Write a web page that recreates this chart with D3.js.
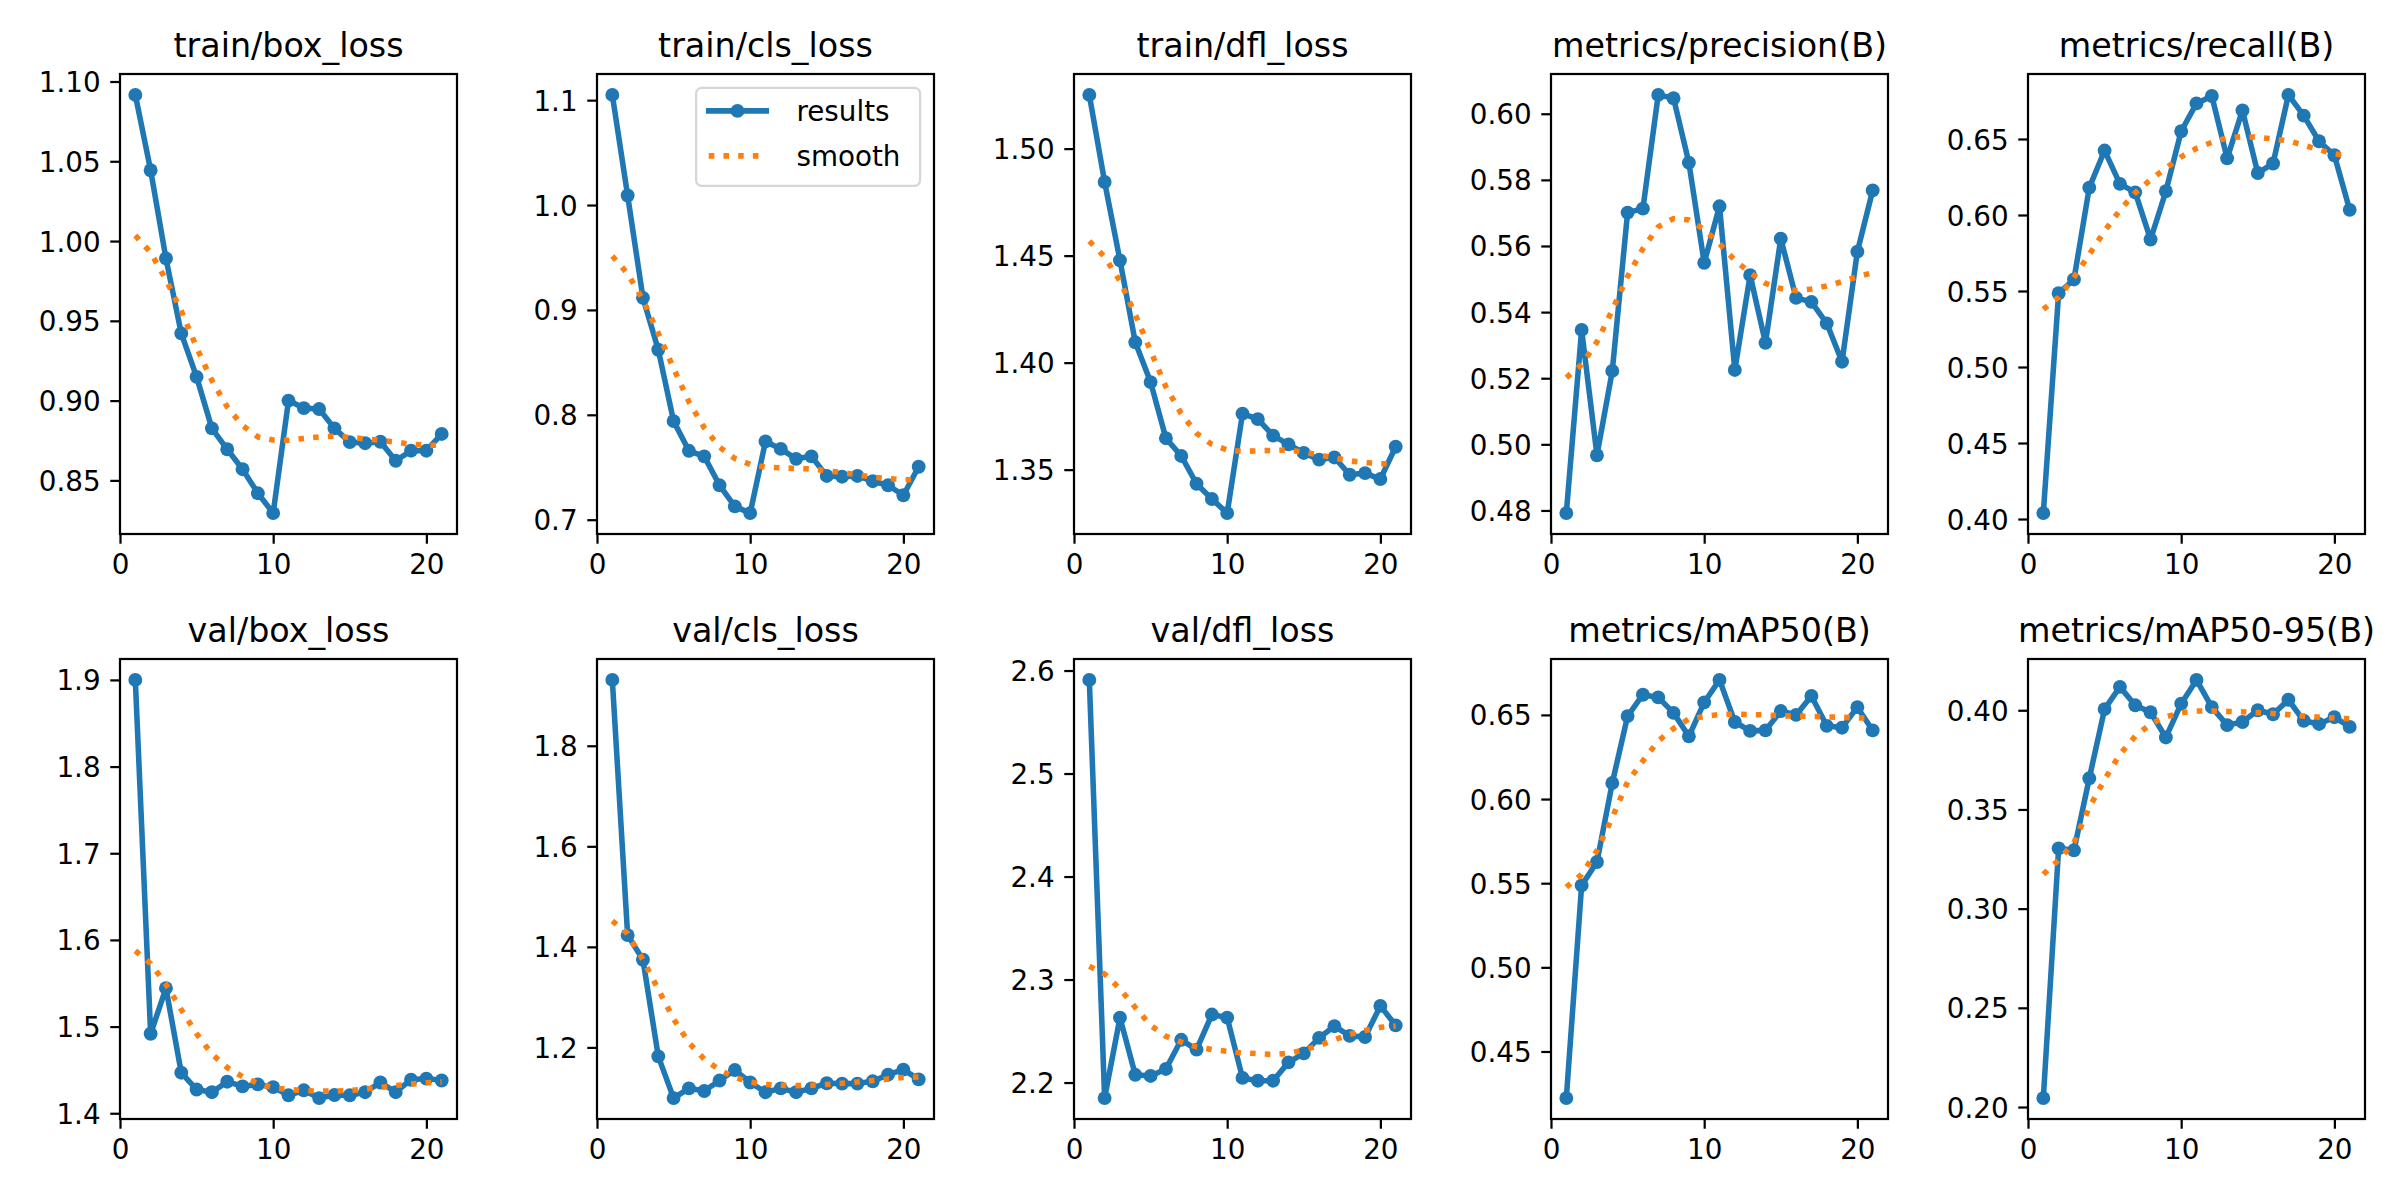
<!DOCTYPE html>
<html>
<head>
<meta charset="utf-8">
<script src="https://cdn.jsdelivr.net/npm/d3@7"></script>
<style>
  html, body { margin: 0; padding: 0; background: #ffffff; }
  svg { display: block; }
  text { font-family: "DejaVu Sans", sans-serif; fill: #000; }
</style>
</head>
<body>
<svg id="chart" width="2400" height="1200"></svg>
<script>
// ---------------- data ----------------
const epochs = [1, 2, 3, 4, 5, 6, 7, 8, 9, 10, 11, 12, 13, 14, 15, 16, 17, 18, 19, 20, 21];

const titles = [
  "train/box_loss", "train/cls_loss", "train/dfl_loss", "metrics/precision(B)", "metrics/recall(B)",
  "val/box_loss", "val/cls_loss", "val/dfl_loss", "metrics/mAP50(B)", "metrics/mAP50-95(B)"
];

const trainBoxLoss = [1.0916, 1.0444, 0.9891, 0.9421, 0.9149, 0.8826, 0.8695, 0.8570, 0.8419, 0.8295, 0.9000, 0.8953, 0.8947, 0.8826, 0.8740, 0.8733, 0.8742, 0.8623, 0.8686, 0.8686, 0.8791];
const trainBoxLossSmooth = [1.0035, 0.9928, 0.9758, 0.9563, 0.9333, 0.9126, 0.8960, 0.8844, 0.8772, 0.8753, 0.8751, 0.8763, 0.8772, 0.8777, 0.8770, 0.8760, 0.8751, 0.8740, 0.8726, 0.8721, 0.8719];

const trainClsLoss = [1.1050, 1.0091, 0.9115, 0.8620, 0.7940, 0.7657, 0.7604, 0.7328, 0.7127, 0.7063, 0.7746, 0.7675, 0.7580, 0.7604, 0.7417, 0.7410, 0.7417, 0.7367, 0.7328, 0.7233, 0.7505];
const trainClsLossSmooth = [0.9514, 0.9345, 0.9097, 0.8778, 0.8443, 0.8124, 0.7877, 0.7693, 0.7583, 0.7527, 0.7502, 0.7495, 0.7488, 0.7484, 0.7467, 0.7449, 0.7428, 0.7406, 0.7392, 0.7381, 0.7381];

const trainDflLoss = [1.5251, 1.4844, 1.4478, 1.4095, 1.3909, 1.3647, 1.3564, 1.3434, 1.3363, 1.3297, 1.3762, 1.3736, 1.3659, 1.3618, 1.3578, 1.3547, 1.3557, 1.3476, 1.3484, 1.3456, 1.3607];
const trainDflLossSmooth = [1.4568, 1.4494, 1.4381, 1.4225, 1.4055, 1.3887, 1.3762, 1.3670, 1.3618, 1.3592, 1.3585, 1.3588, 1.3590, 1.3592, 1.3581, 1.3569, 1.3555, 1.3541, 1.3533, 1.3528, 1.3526];

const precision = [0.4792, 0.5346, 0.4967, 0.5222, 0.5701, 0.5713, 0.6057, 0.6047, 0.5852, 0.5549, 0.5720, 0.5225, 0.5512, 0.5307, 0.5622, 0.5443, 0.5431, 0.5366, 0.5250, 0.5583, 0.5768];
const precisionSmooth = [0.5202, 0.5241, 0.5310, 0.5406, 0.5508, 0.5592, 0.5658, 0.5683, 0.5679, 0.5650, 0.5607, 0.5557, 0.5519, 0.5487, 0.5471, 0.5465, 0.5470, 0.5479, 0.5492, 0.5507, 0.5519];

const recall = [0.4039, 0.5485, 0.5576, 0.6180, 0.6424, 0.6205, 0.6149, 0.5839, 0.6156, 0.6551, 0.6734, 0.6783, 0.6373, 0.6688, 0.6276, 0.6339, 0.6790, 0.6654, 0.6485, 0.6393, 0.6034];
const recallSmooth = [0.5380, 0.5459, 0.5590, 0.5741, 0.5895, 0.6032, 0.6146, 0.6232, 0.6307, 0.6383, 0.6439, 0.6478, 0.6507, 0.6515, 0.6512, 0.6500, 0.6488, 0.6459, 0.6429, 0.6402, 0.6390];

const valBoxLoss = [1.9000, 1.4917, 1.5443, 1.4468, 1.4274, 1.4243, 1.4364, 1.4310, 1.4333, 1.4301, 1.4207, 1.4265, 1.4175, 1.4210, 1.4207, 1.4243, 1.4355, 1.4243, 1.4387, 1.4400, 1.4378];
const valBoxLossSmooth = [1.5875, 1.5727, 1.5488, 1.5196, 1.4917, 1.4683, 1.4526, 1.4423, 1.4346, 1.4292, 1.4274, 1.4261, 1.4256, 1.4256, 1.4261, 1.4279, 1.4297, 1.4319, 1.4337, 1.4351, 1.4360];

const valClsLoss = [1.9310, 1.4233, 1.3744, 1.1822, 1.0992, 1.1186, 1.1132, 1.1341, 1.1550, 1.1302, 1.1109, 1.1186, 1.1109, 1.1186, 1.1287, 1.1280, 1.1280, 1.1326, 1.1457, 1.1558, 1.1364];
const valClsLossSmooth = [1.4519, 1.4264, 1.3744, 1.3155, 1.2566, 1.2093, 1.1767, 1.1550, 1.1403, 1.1310, 1.1264, 1.1248, 1.1240, 1.1248, 1.1264, 1.1287, 1.1310, 1.1341, 1.1372, 1.1403, 1.1411];

const valDflLoss = [2.5909, 2.1849, 2.2630, 2.2075, 2.2064, 2.2132, 2.2415, 2.2320, 2.2660, 2.2630, 2.2045, 2.2018, 2.2018, 2.2196, 2.2283, 2.2434, 2.2547, 2.2453, 2.2442, 2.2744, 2.2555];
const valDflLossSmooth = [2.3129, 2.3054, 2.2910, 2.2729, 2.2555, 2.2449, 2.2393, 2.2347, 2.2321, 2.2302, 2.2287, 2.2280, 2.2272, 2.2283, 2.2317, 2.2359, 2.2415, 2.2468, 2.2506, 2.2536, 2.2548];

const mAP50 = [0.4223, 0.5487, 0.5626, 0.6095, 0.6493, 0.6620, 0.6604, 0.6512, 0.6373, 0.6574, 0.6708, 0.6458, 0.6405, 0.6408, 0.6523, 0.6500, 0.6613, 0.6435, 0.6424, 0.6546, 0.6408];
const mAP50Smooth = [0.5476, 0.5552, 0.5693, 0.5890, 0.6102, 0.6227, 0.6345, 0.6419, 0.6475, 0.6491, 0.6502, 0.6505, 0.6502, 0.6500, 0.6495, 0.6493, 0.6491, 0.6488, 0.6486, 0.6482, 0.6482];

const mAP5095 = [0.2045, 0.3304, 0.3294, 0.3657, 0.4006, 0.4118, 0.4025, 0.3990, 0.3863, 0.4033, 0.4153, 0.4016, 0.3925, 0.3941, 0.4000, 0.3980, 0.4053, 0.3947, 0.3931, 0.3965, 0.3916];
const mAP5095Smooth = [0.3173, 0.3245, 0.3333, 0.3510, 0.3651, 0.3778, 0.3869, 0.3931, 0.3967, 0.3988, 0.3996, 0.3996, 0.3994, 0.3992, 0.3988, 0.3984, 0.3978, 0.3971, 0.3965, 0.3961, 0.3957];

const xTicks = [0, 10, 20];
const yTicks = [
  [0.85, 0.90, 0.95, 1.00, 1.05, 1.10],
  [0.7, 0.8, 0.9, 1.0, 1.1],
  [1.35, 1.40, 1.45, 1.50],
  [0.48, 0.50, 0.52, 0.54, 0.56, 0.58, 0.60],
  [0.40, 0.45, 0.50, 0.55, 0.60, 0.65],
  [1.4, 1.5, 1.6, 1.7, 1.8, 1.9],
  [1.2, 1.4, 1.6, 1.8],
  [2.2, 2.3, 2.4, 2.5, 2.6],
  [0.45, 0.50, 0.55, 0.60, 0.65],
  [0.20, 0.25, 0.30, 0.35, 0.40]
];
const yTickFormats = [".2f", ".1f", ".2f", ".2f", ".2f", ".1f", ".1f", ".1f", ".2f", ".2f"];
const legendLabels = ["results", "smooth"];

const resultSeries = [trainBoxLoss, trainClsLoss, trainDflLoss, precision, recall, valBoxLoss, valClsLoss, valDflLoss, mAP50, mAP5095];
const smoothSeries = [trainBoxLossSmooth, trainClsLossSmooth, trainDflLossSmooth, precisionSmooth, recallSmooth, valBoxLossSmooth, valClsLossSmooth, valDflLossSmooth, mAP50Smooth, mAP5095Smooth];

// ---------------- layout / style ----------------
const BLUE = "#1f77b4", ORANGE = "#ff7f0e";
const PT = 200 / 72;                // px per point at 200 dpi
const LW = 2 * PT;                  // line width
const MR = 0.25 * 8 * PT + 0.5 * PT;// marker radius incl. edge
const TICK = 3.5 * PT, PAD = 3.5 * PT, SPINE = 0.8 * PT;
const TICKFS = 10 * PT, TITLEFS = 12 * PT;
const axW = 337, axH = 460;
const lefts = [120, 597, 1074, 1551, 2028];
const tops = [74, 659];

const svg = d3.select("#chart");
svg.append("rect").attr("width", 2400).attr("height", 1200).attr("fill", "#fff");

resultSeries.forEach((res, i) => {
  const sm = smoothSeries[i];
  const col = i % 5, row = Math.floor(i / 5);
  const x0 = lefts[col], y0 = tops[row];
  const g = svg.append("g").attr("transform", `translate(${x0},${y0})`);

  const x = d3.scaleLinear().domain([0, 22]).range([0, axW]);
  const all = res.concat(sm);
  const lo = d3.min(all), hi = d3.max(all), m = (hi - lo) * 0.05;
  const y = d3.scaleLinear().domain([lo - m, hi + m]).range([axH, 0]);

  const line = d3.line().x((d, j) => x(epochs[j])).y(d => y(d));

  // results line + markers
  g.append("path").datum(res).attr("d", line)
    .attr("fill", "none").attr("stroke", BLUE).attr("stroke-width", LW)
    .attr("stroke-linejoin", "round").attr("stroke-linecap", "square");
  g.selectAll("circle.pt").data(res).join("circle").attr("class", "pt")
    .attr("cx", (d, j) => x(epochs[j])).attr("cy", d => y(d)).attr("r", MR)
    .attr("fill", BLUE);

  // smooth dotted line
  g.append("path").datum(sm).attr("d", line)
    .attr("fill", "none").attr("stroke", ORANGE).attr("stroke-width", LW)
    .attr("stroke-dasharray", `${LW} ${1.65 * LW}`).attr("stroke-linecap", "butt");

  // axes
  const xAxis = d3.axisBottom(x).tickValues(xTicks).tickSize(TICK).tickPadding(PAD).tickFormat(d3.format("d"));
  const yAxis = d3.axisLeft(y).tickValues(yTicks[i]).tickSize(TICK).tickPadding(PAD).tickFormat(d3.format(yTickFormats[i]));
  const gx = g.append("g").attr("transform", `translate(0,${axH})`).call(xAxis);
  const gy = g.append("g").call(yAxis);
  [gx, gy].forEach(a => {
    a.select(".domain").remove();
    a.selectAll(".tick line").attr("stroke", "#000").attr("stroke-width", SPINE);
    a.selectAll(".tick text").attr("font-size", TICKFS).attr("font-family", "DejaVu Sans").attr("fill", "#000");
  });
  gx.selectAll(".tick text").attr("dy", null).attr("y", TICK + PAD).attr("dominant-baseline", "hanging");
  gy.selectAll(".tick text").attr("dy", "0.36em");

  // frame
  g.append("rect").attr("x", 0).attr("y", 0).attr("width", axW).attr("height", axH)
    .attr("fill", "none").attr("stroke", "#000").attr("stroke-width", SPINE);

  // title
  g.append("text").attr("x", axW / 2).attr("y", -6 * PT)
    .attr("text-anchor", "middle").attr("font-size", TITLEFS).text(titles[i]);

  // legend in second panel
  if (i === 1) {
    const fs = TICKFS;
    const lgW = 224, lgH = 98;
    const lx = axW - 0.5 * fs - lgW, ly = 0.5 * fs;
    const lg = g.append("g").attr("transform", `translate(${lx},${ly})`);
    lg.append("rect").attr("width", lgW).attr("height", lgH).attr("rx", 0.2 * fs).attr("ry", 0.2 * fs)
      .attr("fill", "#fff").attr("fill-opacity", 0.8).attr("stroke", "#ccc").attr("stroke-opacity", 0.8).attr("stroke-width", SPINE);
    const hx0 = 0.4 * fs + 1.5, hx1 = hx0 + 2 * fs + 2;
    const ry = [23, 68];
    // results handle
    lg.append("line").attr("x1", hx0).attr("x2", hx1).attr("y1", ry[0]).attr("y2", ry[0])
      .attr("stroke", BLUE).attr("stroke-width", LW).attr("stroke-linecap", "square");
    lg.append("circle").attr("cx", (hx0 + hx1) / 2).attr("cy", ry[0]).attr("r", MR).attr("fill", BLUE);
    // smooth handle
    lg.append("line").attr("x1", hx0).attr("x2", hx1).attr("y1", ry[1]).attr("y2", ry[1])
      .attr("stroke", ORANGE).attr("stroke-width", LW).attr("stroke-dasharray", `${LW} ${1.65 * LW}`);
    legendLabels.forEach((lab, k) => {
      lg.append("text").attr("x", hx1 + 0.8 * fs + 8).attr("y", ry[k]).attr("dy", "0.36em")
        .attr("font-size", fs).text(lab);
    });
  }
});
</script>
</body>
</html>
